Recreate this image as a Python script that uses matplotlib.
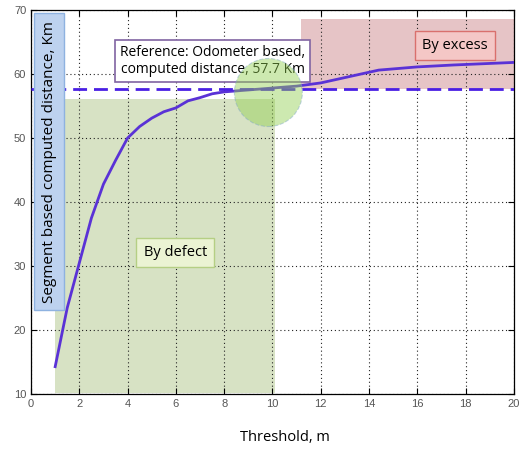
import matplotlib
matplotlib.use("Agg")
import matplotlib.pyplot as plt
from matplotlib.patches import Rectangle, Ellipse

# segment based distance vs threshold
threshold = [1, 1.5, 2, 2.5, 3, 3.5, 4, 4.5, 5, 5.5, 6, 6.5, 7, 7.5, 8, 9, 10, 11, 12, 14.4, 16, 17.5, 20]
distance = [14.3, 23.5, 30.5, 37.5, 42.8, 46.5, 50.0, 51.8, 53.1, 54.1, 54.7, 55.8, 56.3, 56.9, 57.2, 57.5, 57.8, 58.1, 58.6, 60.6, 61.1, 61.4, 61.8]
reference = 57.7

xticks = list(range(0, 21, 2))
yticks = list(range(10, 71, 10))

fig = plt.figure(figsize=(5.26, 4.5), dpi=100)
ax = fig.add_axes([0.059, 0.124, 0.918, 0.854])
ax.set_xlim(0, 20)
ax.set_ylim(10, 70)

# shaded areas
ax.add_patch(Rectangle((1.0, 10.2), 9.1, 45.9, facecolor='#d7e2c4', edgecolor='none', zorder=1))
ax.add_patch(Rectangle((11.2, 57.6), 8.8, 11.0, facecolor='#e6c4c6', edgecolor='none', zorder=1))

ax.grid(True, color='#222222', linestyle=(0, (1, 2.5)), linewidth=0.8)
ax.plot(threshold, distance, color='#5a32d6', linewidth=2, zorder=3)
ax.axhline(reference, color='#4a1fe4', linestyle='--', linewidth=2, dashes=(5, 2.5), zorder=3)

ax.set_xticks(xticks)
ax.set_yticks(yticks)
ax.tick_params(direction='in', top=True, right=True, labelsize=8, labelcolor='#555555',
               length=4, width=0.8)
for lab in ax.get_xticklabels() + ax.get_yticklabels():
    lab.set_family('Liberation Sans')
for s in ax.spines.values():
    s.set_linewidth(0.9)

font = 'Open Sans'
ax.text(7.52, 62.0, "Reference: Odometer based,\ncomputed distance, 57.7 Km", family=font, fontsize=10,
        ha='center', va='center', multialignment='center', linespacing=1.2, zorder=5,
        bbox=dict(boxstyle='square,pad=0.35', facecolor='white', edgecolor='#8064a2', linewidth=1.2))

ax.text(17.56, 64.45, "By excess", family=font, fontsize=10.5, ha='center', va='center', zorder=5,
        bbox=dict(boxstyle='square,pad=0.5', facecolor='#f4c7c6', edgecolor='#d9706d', linewidth=1))

ax.text(5.98, 32.1, "By defect", family=font, fontsize=10.5, ha='center', va='center', zorder=5,
        bbox=dict(boxstyle='square,pad=0.5', facecolor='#ebf3d3', edgecolor='#b5cf84', linewidth=1))

ax.text(0.745, 46.3, "Segment based computed distance, Km", family=font, fontsize=11, rotation=90,
        ha='center', va='center', zorder=5,
        bbox=dict(boxstyle='square,pad=0.5', facecolor='#bdd2ef', edgecolor='#8eb2e0', linewidth=1))

ax.add_patch(Ellipse((9.83, 57.1), 68 / 24.15, 68 / 6.4, facecolor='#92d050', alpha=0.45,
                     edgecolor='#7fa7c9', linestyle='--', linewidth=0.8, zorder=6))

fig.text(0.542, 0.028, "Threshold, m", family=font, fontsize=10.5, ha='center', va='center')

fig.savefig('out.png', dpi=100)
